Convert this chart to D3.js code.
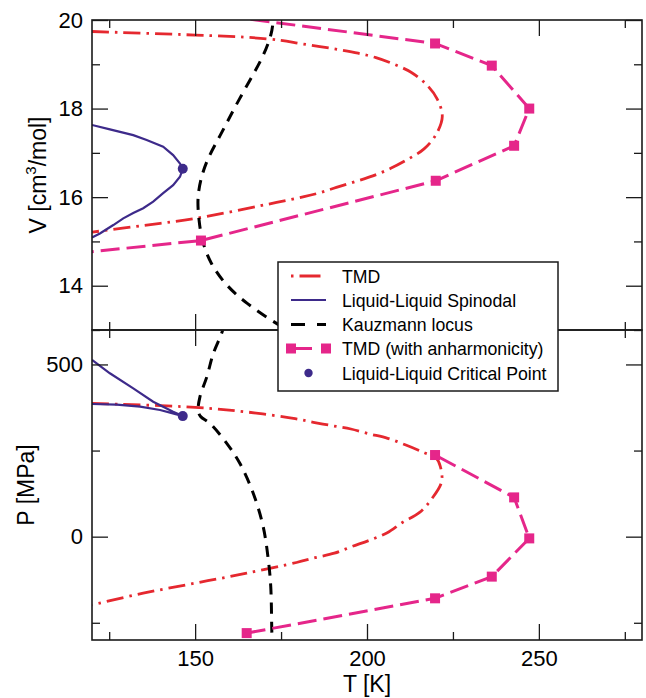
<!DOCTYPE html>
<html>
<head>
<meta charset="utf-8">
<script src="https://cdn.jsdelivr.net/npm/d3@7"></script>
<style>
  html, body { margin: 0; padding: 0; background: #fff; }
  svg { display: block; font-family: "Liberation Sans", Arial, Helvetica, sans-serif; }
</style>
</head>
<body>
<svg id="chart" width="646" height="698"></svg>
<script>
// ---------------- DATA ----------------
// Top panel: T [K] vs V [cm^3/mol]
const tmdTopT = [120, 150, 165, 175, 180.5, 186.3, 191.9, 197.4, 202.6, 207.9, 212.8, 217.2, 220.4, 221.9, 220.2, 216.6, 212, 206.9, 201.7, 196.5, 191.1, 186.3, 181.7, 173.7, 150, 135, 120];
const tmdTopV = [19.74, 19.66, 19.61, 19.54, 19.47, 19.40, 19.33, 19.25, 19.15, 19.00, 18.82, 18.55, 18.22, 17.82, 17.43, 17.09, 16.86, 16.65, 16.48, 16.35, 16.22, 16.10, 16.01, 15.88, 15.52, 15.36, 15.21];

const spinTopT = [120, 125.2, 132, 135.9, 140.7, 143.6, 145.6, 146.4, 145.6, 143.6, 140.7, 137.8, 134.9, 132, 129.1, 126.2, 122.3, 120];
const spinTopV = [17.63, 17.53, 17.40, 17.29, 17.14, 16.95, 16.76, 16.64, 16.46, 16.27, 16.09, 15.90, 15.75, 15.64, 15.52, 15.37, 15.18, 15.09];

const kauzTopT = [172.8, 172.7, 172.4, 169.8, 166, 161.1, 157.2, 153.6, 151.5, 150.6, 151.1, 151.9, 154.3, 159.2, 165, 171.8, 178];
const kauzTopV = [20.3, 20.0, 19.70, 19.17, 18.65, 17.97, 17.37, 16.88, 16.39, 15.94, 15.48, 15.03, 14.51, 13.98, 13.60, 13.23, 12.95];

const anhTopT = [115, 151.7, 220, 242.8, 247.2, 236.3, 219.8, 155];
const anhTopV = [14.73, 15.02, 16.37, 17.16, 18.0, 18.97, 19.47, 20.13];

const cpTopT = [146.4];
const cpTopV = [16.64];

// Bottom panel: T [K] vs P [MPa]
const tmdBotT = [120, 150, 165, 179.1, 184.4, 190, 195.3, 200.6, 206, 211.3, 216.4, 220.1, 221.3, 221.7, 218.8, 215.2, 210.3, 205.9, 200.9, 195.5, 190.5, 184.9, 179.5, 165, 150, 134.9, 120];
const tmdBotP = [387, 375.5, 362, 342.5, 332, 322, 312.6, 298.6, 285.6, 266, 245, 228.4, 205, 159.6, 109.4, 69.6, 41.1, 11.5, -9.7, -29, -48, -61, -75, -106, -135, -164, -198];

const spinBotT = [120, 125.2, 132, 137.8, 143.6, 146.4, 144.6, 139.8, 134, 127.2, 120];
const spinBotP = [512.9, 474.3, 430.7, 391.9, 363, 350.3, 355.2, 367.7, 377.4, 383.2, 385.2];

const kauzBotT = [158.6, 157.7, 155.3, 153.4, 151.4, 150.9, 151.6, 154.3, 159.2, 163, 166.9, 169.8, 171.3, 172, 172.3, 172.4];
const kauzBotP = [620, 590, 532, 464, 406, 365, 349, 329, 271, 213, 126, 29, -68, -145, -271, -310];

const anhBotT = [165, 219.8, 236.3, 247.2, 242.8, 219.8];
const anhBotP = [-280, -179, -116, -5, 114, 237];

const cpBotT = [146.4];
const cpBotP = [350];

// Axes ticks
const xMajor = [150, 200, 250];
const xMinor = [125, 175, 225, 275];
const vMajor = [14, 16, 18, 20];
const vMinor = [13, 15, 17, 19];
const pMajor = [0, 500];
const pMinor = [-250, 250];

const legendLabels = ["TMD", "Liquid-Liquid Spinodal", "Kauzmann locus", "TMD (with anharmonicity)", "Liquid-Liquid Critical Point"];

// ---------------- DRAW ----------------
const svg = d3.select("#chart");
const L = 92, R = 642, T1 = 20, M = 330, B2 = 640;

const x = d3.scaleLinear().domain([120, 280]).range([L, R]);
const yV = d3.scaleLinear().domain([13, 20]).range([M, T1]);
const yP = d3.scaleLinear().domain([-300, 600]).range([B2, M]);

const RED = "#e5282f", PINK = "#e5268a", BLUE = "#3d2a8a", BLACK = "#000";

const defs = svg.append("defs");
defs.append("clipPath").attr("id", "clipTop").append("rect")
  .attr("x", L).attr("y", T1).attr("width", R - L).attr("height", M - T1);
defs.append("clipPath").attr("id", "clipBot").append("rect")
  .attr("x", L).attr("y", M).attr("width", R - L).attr("height", B2 - M);

function zip(a, b) { return a.map((v, i) => [v, b[i]]); }

function drawPanel(y, clipId, sets, kCurve) {
  const g = svg.append("g").attr("clip-path", `url(#${clipId})`);
  const smooth = d3.line().x(d => x(d[0])).y(d => y(d[1])).curve(d3.curveCatmullRom.alpha(0.5));
  const kline = d3.line().x(d => x(d[0])).y(d => y(d[1])).curve(kCurve);
  const lin = d3.line().x(d => x(d[0])).y(d => y(d[1]));
  // TMD
  g.append("path").datum(zip(sets.tmdT, sets.tmdY)).attr("d", smooth)
    .attr("fill", "none").attr("stroke", RED).attr("stroke-width", 2.8)
    .attr("stroke-dasharray", "17,6,2.5,6");
  // Spinodal
  g.append("path").datum(zip(sets.spT, sets.spY)).attr("d", lin)
    .attr("fill", "none").attr("stroke", BLUE).attr("stroke-width", 2.2);
  // Kauzmann
  g.append("path").datum(zip(sets.kT, sets.kY)).attr("d", kline)
    .attr("fill", "none").attr("stroke", BLACK).attr("stroke-width", 3)
    .attr("stroke-dasharray", "11,8");
  // TMD anharmonic
  const an = zip(sets.aT, sets.aY);
  g.append("path").datum(an).attr("d", lin)
    .attr("fill", "none").attr("stroke", PINK).attr("stroke-width", 3)
    .attr("stroke-dasharray", "19,7");
  g.selectAll(null).data(an).enter().append("rect")
    .attr("x", d => x(d[0]) - 5).attr("y", d => y(d[1]) - 5)
    .attr("width", 10).attr("height", 10).attr("fill", PINK);
  // Critical point
  g.selectAll(null).data(zip(sets.cT, sets.cY)).enter().append("circle")
    .attr("cx", d => x(d[0])).attr("cy", d => y(d[1])).attr("r", 5).attr("fill", BLUE);
}

drawPanel(yV, "clipTop", {
  tmdT: tmdTopT, tmdY: tmdTopV, spT: spinTopT, spY: spinTopV,
  kT: kauzTopT, kY: kauzTopV, aT: anhTopT, aY: anhTopV, cT: cpTopT, cY: cpTopV
}, d3.curveBasis);
drawPanel(yP, "clipBot", {
  tmdT: tmdBotT, tmdY: tmdBotP, spT: spinBotT, spY: spinBotP,
  kT: kauzBotT, kY: kauzBotP, aT: anhBotT, aY: anhBotP, cT: cpBotT, cY: cpBotP
}, d3.curveCatmullRom.alpha(0.5));

// ---------------- AXES ----------------
const AX = "#1a1a1a";
function styleAxis(sel) {
  sel.select(".domain").remove();
  sel.selectAll(".tick line").attr("stroke", AX).attr("stroke-width", 1.3);
  sel.selectAll(".tick text").attr("font-size", 22).attr("fill", "#000")
    .attr("font-family", "'Liberation Sans', Arial, sans-serif");
}
function axisPair(makeAxis, scale, major, minor, labels, tf) {
  const gMaj = svg.append("g").attr("transform", tf)
    .call(makeAxis(scale).tickValues(major).tickSize(-16).tickPadding(labels ? 9 : 0)
      .tickFormat(labels ? d3.format("d") : () => ""));
  styleAxis(gMaj);
  const gMin = svg.append("g").attr("transform", tf)
    .call(makeAxis(scale).tickValues(minor).tickSize(-8).tickFormat(() => ""));
  styleAxis(gMin);
  return gMaj;
}
// top panel
axisPair(d3.axisLeft, yV, vMajor, vMinor, true, `translate(${L},0)`);
axisPair(d3.axisRight, yV, vMajor, vMinor, false, `translate(${R},0)`);
axisPair(d3.axisTop, x, xMajor, xMinor, false, `translate(0,${T1})`);
axisPair(d3.axisBottom, x, xMajor, xMinor, false, `translate(0,${M})`);
// bottom panel
axisPair(d3.axisLeft, yP, pMajor, pMinor, true, `translate(${L},0)`);
axisPair(d3.axisRight, yP, pMajor, pMinor, false, `translate(${R},0)`);
axisPair(d3.axisTop, x, xMajor, xMinor, false, `translate(0,${M})`);
const xb = axisPair(d3.axisBottom, x, xMajor, xMinor, true, `translate(0,${B2})`);
xb.selectAll(".tick text").attr("dy", null).attr("y", 26);

// frames
[[T1, M], [M, B2]].forEach(([a, b]) => {
  svg.append("rect").attr("x", L).attr("y", a).attr("width", R - L).attr("height", b - a)
    .attr("fill", "none").attr("stroke", AX).attr("stroke-width", 1.6);
});

// axis titles
svg.append("text").attr("x", x(200)).attr("y", 692).attr("text-anchor", "middle")
  .attr("font-size", 23).text("T [K]");
const vt = svg.append("text").attr("transform", `translate(46,${(T1 + M) / 2}) rotate(-90)`)
  .attr("text-anchor", "middle").attr("font-size", 23);
vt.append("tspan").text("V [cm");
vt.append("tspan").attr("font-size", 15).attr("dy", -10).text("3");
vt.append("tspan").attr("dy", 10).text("/mol]");
svg.append("text").attr("transform", `translate(34,${(M + B2) / 2}) rotate(-90)`)
  .attr("text-anchor", "middle").attr("font-size", 23).text("P [MPa]");

// ---------------- LEGEND ----------------
const lg = svg.append("g");
lg.append("rect").attr("x", 278).attr("y", 262).attr("width", 280).attr("height", 129)
  .attr("fill", "#fff").attr("stroke", AX).attr("stroke-width", 1.5);
const ly = [276, 300, 324.5, 348.5, 373];
const x0 = 291, x1 = 326;
lg.append("path").attr("d", `M${x0},${ly[0]}H${x1 - 5}`).attr("stroke", RED).attr("stroke-width", 2.8)
  .attr("stroke-dasharray", "2.5,6,21,10");
lg.append("path").attr("d", `M${x0},${ly[1]}H${x1}`).attr("stroke", BLUE).attr("stroke-width", 2.2);
lg.append("path").attr("d", `M${x0},${ly[2]}H${x1}`).attr("stroke", BLACK).attr("stroke-width", 3)
  .attr("stroke-dasharray", "14,12,9");
lg.append("path").attr("d", `M${x0},${ly[3]}H${x1}`).attr("stroke", PINK).attr("stroke-width", 3)
  .attr("stroke-dasharray", "21,9");
[x0, x1].forEach(xx => lg.append("rect").attr("x", xx - 5).attr("y", ly[3] - 5)
  .attr("width", 10).attr("height", 10).attr("fill", PINK));
lg.append("circle").attr("cx", 308.5).attr("cy", ly[4]).attr("r", 4.2).attr("fill", BLUE);
legendLabels.forEach((t, i) => {
  lg.append("text").attr("x", 342).attr("y", ly[i] + 6.5).attr("font-size", 17.7).text(t);
});
</script>
</body>
</html>
